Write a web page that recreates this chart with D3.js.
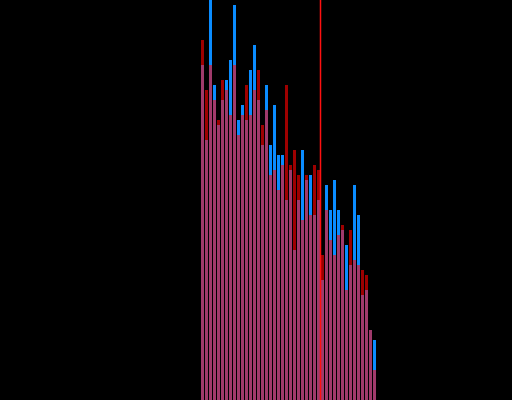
<!DOCTYPE html>
<html>
<head>
<meta charset="utf-8">
<script src="https://cdn.jsdelivr.net/npm/d3@7"></script>
<style>
html,body{margin:0;padding:0;background:#000;}
svg{display:block;}
</style>
</head>
<body>
<svg id="chart" width="512" height="400"></svg>
<script>
// bin indices (each bin is one 4px slot of a 128-bin axis)
const bins = d3.range(50, 94);
const blueCounts = [67,52,80,63,55,60,64,68,79,56,59,56,66,71,60,51,63,51,59,49,49,40,46,30,40,50,44,45,37,40,24,43,38,44,38,34,31,27,43,37,21,22,14,12];
const redCounts  = [72,62,67,60,56,64,62,57,67,53,57,63,57,62,66,55,58,45,46,42,47,63,47,50,45,36,45,37,47,46,29,38,32,29,33,35,22,34,28,27,26,25,14,6];
const markerBin = 80;

const W = 512, H = 400;
const svg = d3.select("#chart");
svg.append("rect").attr("width", W).attr("height", H).attr("fill", "#000");

const x = d3.scaleLinear().domain([0, 128]).range([0, W]);
const y = d3.scaleLinear().domain([0, 80]).range([H, 0]);
const bw = x(1) - x(0) - 1;
const bx = d => x(d.bin) + 1;

const data = bins.map((b, i) => ({bin: b, blue: blueCounts[i], red: redCounts[i]}));

const g = svg.append("g").attr("shape-rendering", "crispEdges");
g.selectAll("rect.blue").data(data).join("rect").attr("class", "blue")
  .attr("x", bx).attr("width", bw)
  .attr("y", d => y(d.blue)).attr("height", d => H - y(d.blue))
  .attr("fill", "#0a8cff");
g.selectAll("rect.red").data(data).join("rect").attr("class", "red")
  .attr("x", bx).attr("width", bw)
  .attr("y", d => y(d.red)).attr("height", d => H - y(d.red))
  .attr("fill", "#9e0000");
g.selectAll("rect.both").data(data).join("rect").attr("class", "both")
  .attr("x", bx).attr("width", bw)
  .attr("y", d => y(Math.min(d.blue, d.red))).attr("height", d => H - y(Math.min(d.blue, d.red)))
  .attr("fill", "#a03a6b");

svg.append("line")
  .attr("x1", x(markerBin) + 0.5).attr("x2", x(markerBin) + 0.5)
  .attr("y1", 0).attr("y2", H)
  .attr("stroke", "#ff1010").attr("stroke-width", 1.5);
</script>
</body>
</html>
